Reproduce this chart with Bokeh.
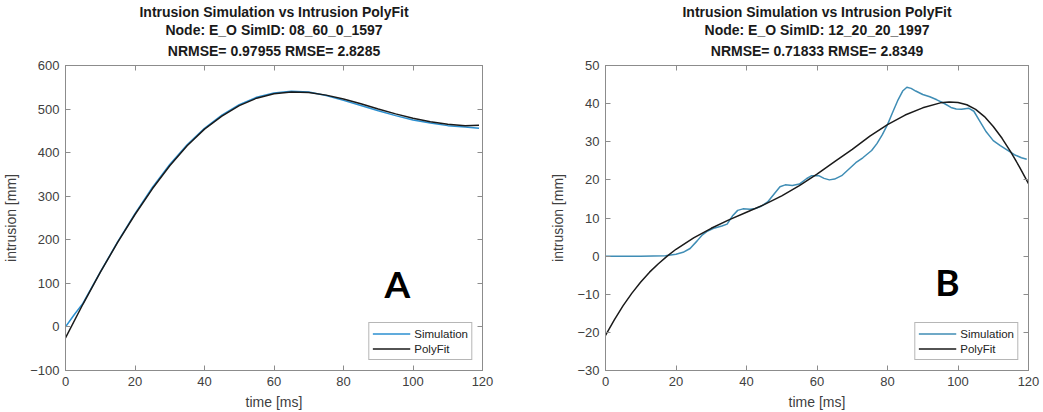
from bokeh.plotting import figure
from bokeh.layouts import row
from bokeh.models import (LinearAxis, Title, Label, Legend, LegendItem,
                          Range1d, FixedTicker)
from bokeh.embed import file_html
from bokeh.resources import INLINE

# ---------------- Panel A: node E_O, SimID 08_60_0_1597 ----------------
a_title = ["Intrusion Simulation vs Intrusion PolyFit",
           "Node: E_O SimID: 08_60_0_1597",
           "NRMSE= 0.97955 RMSE= 2.8285"]
a_sim_time = [0, 2.5, 5, 10, 15, 20, 25, 30, 35, 40, 45, 50, 55, 60, 65, 70,
              75, 80, 85, 90, 95, 100, 105, 110, 115, 119]
a_sim = [0, 28, 54, 126, 195, 260, 320, 373, 418, 456, 486, 510, 527, 537,
         541, 539, 531, 520, 508, 496, 485, 475, 468, 462, 459, 456]
a_fit_time = [0, 5, 10, 15, 20, 25, 30, 35, 40, 45, 50, 55, 60, 65, 70, 75,
              80, 85, 90, 95, 100, 105, 110, 115, 119]
a_fit = [-25, 52, 125, 194, 258, 317, 370, 416, 454, 484, 508, 525, 535, 539,
         538, 532, 523, 512, 500, 489, 479, 471, 465, 462, 463]
a_yticks = [-100, 0, 100, 200, 300, 400, 500, 600]

# ---------------- Panel B: node E_O, SimID 12_20_20_1997 ----------------
b_title = ["Intrusion Simulation vs Intrusion PolyFit",
           "Node: E_O SimID: 12_20_20_1997",
           "NRMSE= 0.71833 RMSE= 2.8349"]
b_sim_time = [0, 10, 17, 20, 22, 24, 26, 27.5, 29, 31, 33, 34.5, 36, 37.5, 39,
              41, 42.5, 44, 46, 48, 49.5, 51, 53, 55, 57, 58.5, 60.5, 62, 63.5,
              65, 67, 69, 71, 73, 75.5, 77, 78.5, 80, 81.5, 83, 84.3, 85.5,
              86.7, 88, 90, 92, 94, 96, 98, 99.5, 101, 103, 104.5, 106, 108,
              110, 112, 114, 116, 118, 119.5]
b_sim = [0, 0, 0.1, 0.5, 1.0, 2.0, 4.0, 5.6, 6.6, 7.4, 7.9, 8.4, 10.5, 12.0,
         12.4, 12.3, 12.5, 13.0, 14.2, 16.5, 18.2, 18.7, 18.5, 18.9, 20.3,
         21.1, 21.1, 20.4, 20.0, 20.2, 21.1, 22.8, 24.5, 25.8, 27.7, 29.5,
         31.8, 34.5, 37.8, 41.0, 43.3, 44.3, 44.0, 43.3, 42.4, 41.8, 41.0,
         40.1, 39.0, 38.6, 38.5, 38.8, 38.0, 35.7, 32.6, 30.3, 29.0, 27.8,
         26.6, 25.8, 25.4]
b_fit_time = [0, 2.5, 5, 7.5, 10, 12.5, 15, 17.5, 20, 25, 30, 35, 40, 45, 50,
              55, 60, 65, 70, 75, 80, 85, 90, 95, 97.5, 100, 102.5, 105,
              107.5, 110, 112.5, 115, 117.5, 120]
b_fit = [-20.8, -16.7, -13.0, -9.7, -6.8, -4.2, -2.0, 0.0, 1.8, 4.8, 7.3,
         9.5, 11.5, 13.5, 15.8, 18.5, 21.5, 24.8, 28.0, 31.5, 34.5, 37.0,
         38.9, 40.2, 40.45, 40.3, 39.7, 38.5, 36.6, 34.0, 30.9, 27.3, 23.3,
         19.0]
b_yticks = [-30, -20, -10, 0, 10, 20, 30, 40, 50]

x_ticks = [0, 20, 40, 60, 80, 100, 120]

FONT = "Liberation Sans"
FRAME_GRAY = "#8c8c8c"
TICK_TEXT = "#404040"


def style_axis(ax, ticks, show_labels):
    ax.ticker = FixedTicker(ticks=ticks)
    ax.axis_line_color = FRAME_GRAY
    ax.major_tick_line_color = FRAME_GRAY
    ax.major_tick_in = 5
    ax.major_tick_out = 0
    ax.minor_tick_line_color = None
    ax.major_label_text_font = FONT
    ax.major_label_text_font_size = "13px"
    ax.major_label_text_color = TICK_TEXT
    ax.major_label_standoff = 6
    ax.axis_label_text_font = FONT
    ax.axis_label_text_font_size = "14px"
    ax.axis_label_text_font_style = "normal"
    ax.axis_label_text_color = TICK_TEXT
    ax.axis_label_standoff = 8
    if not show_labels:
        ax.major_label_overrides = {t: "" for t in ticks}


def panel(width, left, right, y_lo, y_hi, yticks, title, t_sim, sim, t_fit,
          fit, sim_color, letter, letter_x, letter_y):
    p = figure(width=width, height=412, x_range=Range1d(0, 120),
               y_range=Range1d(y_lo, y_hi), output_backend="svg",
               toolbar_location=None, title=None,
               min_border_left=left, min_border_right=right,
               min_border_top=65, min_border_bottom=42)
    p.grid.visible = False
    p.outline_line_color = FRAME_GRAY
    p.background_fill_color = "white"
    p.border_fill_color = "white"

    style_axis(p.xaxis[0], x_ticks, True)
    style_axis(p.yaxis[0], yticks, True)
    p.xaxis[0].axis_label = "time [ms]"
    p.xaxis[0].axis_label_standoff = 5
    p.yaxis[0].axis_label = "intrusion [mm]"

    top = LinearAxis()
    style_axis(top, x_ticks, False)
    p.add_layout(top, "above")
    rgt = LinearAxis()
    style_axis(rgt, yticks, False)
    p.add_layout(rgt, "right")

    # title lines, innermost first; the innermost keeps a gap to the frame
    for i, line in enumerate(reversed(title)):
        p.add_layout(Title(text=line, align="center", text_font=FONT,
                           text_font_size="14px", text_font_style="bold",
                           text_color="#1a1a1a", text_line_height=0.9,
                           vertical_align="top" if i == 0 else "bottom",
                           standoff=10 if i == 0 else 0), "above")

    r_sim = p.line(t_sim, sim, line_color=sim_color, line_width=1.5,
                   line_join="round")
    r_fit = p.line(t_fit, fit, line_color="#1a1a1a", line_width=1.5,
                   line_join="round")

    legend = Legend(items=[LegendItem(label="Simulation", renderers=[r_sim]),
                           LegendItem(label="PolyFit", renderers=[r_fit])],
                    location="bottom_right", margin=10, padding=3,
                    spacing=0, glyph_width=38, glyph_height=15,
                    label_height=15, label_standoff=4,
                    label_text_font=FONT, label_text_font_size="11.5px",
                    label_text_color="#222222",
                    border_line_color="#6e6e6e", border_line_width=1,
                    background_fill_color="white", background_fill_alpha=1)
    p.add_layout(legend)

    p.add_layout(Label(x=letter_x, y=letter_y, text=letter, text_font="Lato",
                       text_font_style="bold", text_font_size="37px",
                       text_align="center", text_baseline="middle",
                       text_color="black"))
    return p


pa = panel(521, 60, 39, -100, 600, a_yticks, a_title, a_sim_time, a_sim,
           a_fit_time, a_fit, "#2b8fd0", "A", 95.5, 100)
pb = panel(522, 84, 15, -30, 50, b_yticks, b_title, b_sim_time, b_sim,
           b_fit_time, b_fit, "#3f8db5", "B", 97, -6.7)

layout = row(pa, pb)
open("out.html", "w").write(file_html(layout, INLINE))
